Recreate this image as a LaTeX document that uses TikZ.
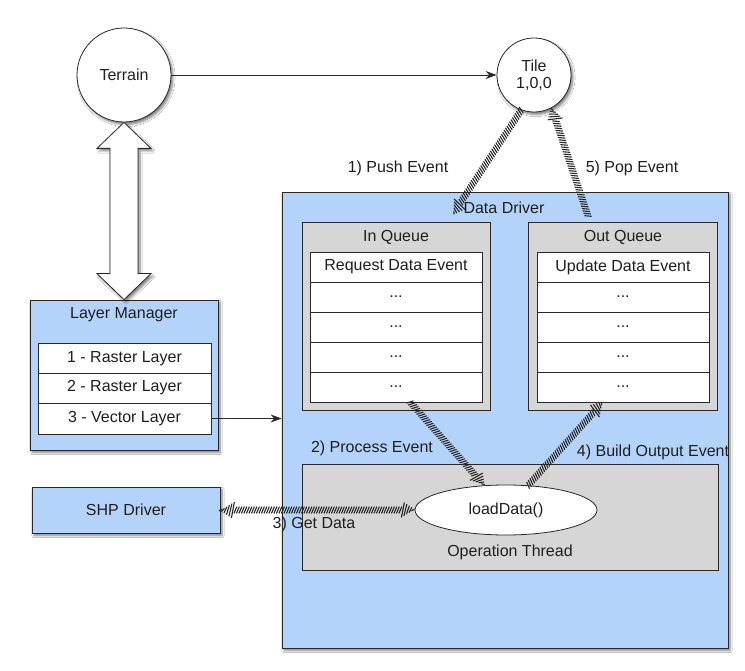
\documentclass[tikz,border=0pt]{standalone}
\usepackage{fontspec}
\setmainfont{Liberation Sans}
\usetikzlibrary{arrows.meta,shadows.blur,decorations.markings,shapes.geometric,calc}

\definecolor{paleblue}{RGB}{180,211,251}
\definecolor{panelgray}{RGB}{214,214,214}
\definecolor{inkline}{RGB}{40,40,40}

% hatched ("striped") connectors with tapered striped heads
\newif\ifhatchend
\newif\ifhatchstart
\newcommand\hatchmark{%
  \pgfmathsetmacro\hdist{\pgfkeysvalueof{/pgf/decoration/mark info/distance from start}}%
  \pgfmathsetmacro\hrem{\pgfdecoratedpathlength-\hdist}%
  \pgfmathsetmacro\hw{3.4}%
  \ifhatchend\pgfmathsetmacro\hw{\hrem<13 ? max(0.9,\hrem*0.64) : \hw}\fi
  \ifhatchstart\pgfmathsetmacro\hw{\hdist<13 ? max(0.9,\hdist*0.64) : \hw}\fi
  \draw[line width=1.1pt, black!85] (-1.5pt,-\hw pt) -- (1.5pt,\hw pt);%
}

\tikzset{
  x=1pt, y=-1pt,
  every node/.style={font=\fontsize{16}{19}\selectfont, text=black!88},
  softshadow/.style={blur shadow={shadow xshift=2pt, shadow yshift=-2.5pt,
      shadow blur steps=6, shadow opacity=50}},
  bluebox/.style={draw=inkline, line width=0.8pt, fill=paleblue, inner sep=0pt, softshadow},
  graybox/.style={draw=inkline, line width=0.8pt, fill=panelgray, inner sep=0pt},
  rowbox/.style={draw=inkline, line width=0.8pt, fill=white, inner sep=0pt,
      minimum height=30, minimum width=172},
  roundnode/.style={circle, draw=inkline, line width=0.8pt, fill=white, inner sep=0pt, softshadow},
  hatchbase/.style={decoration={markings,
      mark=between positions 0 and 1 step 2.5pt with {\hatchmark}}, decorate},
  hatchto/.style={hatchbase, /utils/exec={\hatchendtrue\hatchstartfalse}},
  hatchboth/.style={hatchbase, /utils/exec={\hatchendtrue\hatchstarttrue}},
  plainarrow/.style={draw=inkline, line width=0.8pt, -{Stealth[length=11pt,width=8pt]}},
  blockarrow/.style={draw=inkline, line width=0.8pt, fill=white, line join=miter, softshadow},
}

\begin{document}
\begin{tikzpicture}
\fill[white] (0,0) rectangle (745,671);
\useasboundingbox (0,0) rectangle (745,671);

% top level nodes
\node[roundnode, minimum size=94] (terrain) at (124,75) {Terrain};
\node[roundnode, minimum size=74, align=center] (tile) at (534,75) {Tile\\[-2pt]1,0,0};

\draw[plainarrow] (terrain.east) -- (tile.west);

% layer manager
\node[bluebox, minimum width=188, minimum height=150] (lm) at (124,375) {};
\node at (124,315) {Layer Manager};
\node[rowbox, minimum width=173] (l1) at (124.5,358.5) {1 - Raster Layer};
\node[rowbox, minimum width=173] (l2) at (124.5,388) {2 - Raster Layer};
\node[rowbox, minimum width=173, minimum height=31] (l3) at (124.5,418.5) {3 - Vector Layer};

% white double block arrow between terrain and layer manager
\path (terrain.south) coordinate (bt) (bt |- lm.north) coordinate (bb);
\draw[blockarrow] (bt) -- ($(bt)+(27,26)$) -- ($(bt)+(14,26)$) -- ($(bb)+(14,-26)$)
  -- ($(bb)+(27,-26)$) -- (bb) -- ($(bb)+(-27,-26)$) -- ($(bb)+(-14,-26)$)
  -- ($(bt)+(-14,26)$) -- ($(bt)+(-27,26)$) -- cycle;

% shp driver
\node[bluebox, minimum width=188, minimum height=46] (shp) at (126,510) {SHP Driver};

% data driver
\node[bluebox, minimum width=446, minimum height=456] (dd) at (505,420) {};
\node (ddlabel) at (504,208) {Data Driver};

\draw[plainarrow] (l3.east) -- (l3.east -| dd.west);

% queues
\node[graybox, minimum width=188, minimum height=188] (inq) at (396,316) {};
\node at (396,237) {In Queue};
\node[graybox, minimum width=189, minimum height=188] (outq) at (622.5,316) {};
\node at (623,237) {Out Queue};

\node[rowbox] (in0) at (396,267) {Request Data Event};
\node[rowbox] (out0) at (623,267) {Update Data Event};
\foreach \i in {1,2,3,4} {
  \node[rowbox] (in\i) at (396,267+30*\i) {...};
  \node[rowbox] (out\i) at (623,267+30*\i) {...};
}

% operation thread
\node[graybox, minimum width=416, minimum height=106] (op) at (510,517) {};
\node at (510,552) {Operation Thread};
\node[ellipse, draw=inkline, line width=0.8pt, fill=white, minimum width=182,
      minimum height=50, inner sep=0pt] (ld) at (506,510) {loadData()};

% event flow
\coordinate (pushend) at (453,214);
\coordinate (popstart) at (588,216);
\coordinate (procstart) at (410,402);
\coordinate (buildend) at (603,402);

\path[hatchto] (tile.-110) -- (pushend);
\path[hatchto] (popstart) -- (tile.-62);
\path[hatchto] (procstart) -- (ld);
\path[hatchto] (ld) -- (buildend);
\path[hatchboth] (shp.east) -- (ld.west);

% flow labels
\node at (398,168) {1) Push Event};
\node at (632,168) {5) Pop Event};
\node at (372,448) {2) Process Event};
\node at (653,452) {4) Build Output Event};
\node at (314,524) {3) Get Data};
\end{tikzpicture}
\end{document}
